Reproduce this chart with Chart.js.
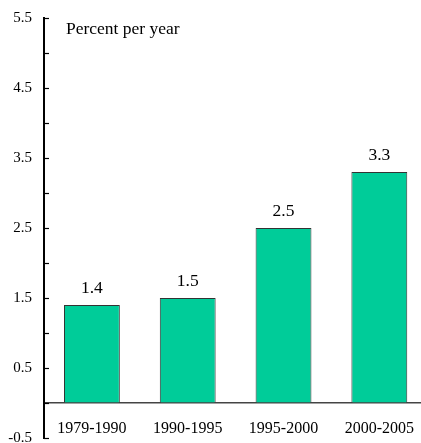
<!DOCTYPE html>
<html>
<head>
<meta charset="utf-8">
<script src="https://cdn.jsdelivr.net/npm/chart.js@4.4.0/dist/chart.umd.min.js"></script>
<style>
    html, body { margin: 0; padding: 0; background: #fff; overflow: hidden; }
    #wrap { width: 421px; height: 443px; overflow: hidden; position: relative; }
    #rateChart { display: block; }
</style>
</head>
<body>
<div id="wrap"><canvas id="rateChart" width="430" height="456"></canvas></div>
<script>
const periods = ['1979-1990', '1990-1995', '1995-2000', '2000-2005'];
const growthRates = [1.4, 1.5, 2.5, 3.3];
const unitLabel = 'Percent per year';
const yMin = -0.5;
const yMax = 5.5;
const yStep = 0.5;

document.addEventListener('DOMContentLoaded', () => {
    const ctx = document.getElementById('rateChart').getContext('2d');
    const serif = '"Liberation Serif", "Times New Roman", serif';

    // petites graduations dessinées vers l'intérieur, à partir de l'échelle y
    const innerTicks = {
        id: 'innerTicks',
        afterDraw(chart) {
            const y = chart.scales.y;
            const c = chart.ctx;
            c.save();
            c.strokeStyle = '#000';
            c.lineWidth = 1.2;
            y.ticks.forEach(t => {
                const py = Math.round(y.getPixelForValue(t.value)) + 0.5;
                c.beginPath();
                c.moveTo(y.right, py);
                c.lineTo(y.right + 5, py);
                c.stroke();
            });
            c.restore();
        }
    };

    // valeurs au-dessus des barres + libellé de l'unité
    const textLabels = {
        id: 'textLabels',
        afterDatasetsDraw(chart) {
            const c = chart.ctx;
            const meta = chart.getDatasetMeta(0);
            c.save();
            c.fillStyle = '#000';
            c.font = '17.5px ' + serif;
            c.textAlign = 'center';
            c.textBaseline = 'alphabetic';
            meta.data.forEach((bar, i) => {
                c.fillText(growthRates[i].toFixed(1), bar.x, bar.y - 12);
            });
            c.textAlign = 'left';
            c.fillText(unitLabel, chart.chartArea.left + 22, chart.chartArea.top + 16);
            c.restore();
        }
    };

    new Chart(ctx, {
        type: 'bar',
        data: {
            labels: periods,
            datasets: [{
                data: growthRates,
                backgroundColor: '#00CC99',
                borderColor: '#333333',
                borderWidth: 1,
                categoryPercentage: 1,
                barPercentage: 0.583
            }]
        },
        options: {
            responsive: false,
            animation: false,
            layout: { padding: { top: 15, bottom: 6, left: 0, right: 0 } },
            plugins: {
                legend: { display: false },
                tooltip: { enabled: false }
            },
            scales: {
                x: {
                    position: { y: 0 },
                    offset: true,
                    grid: { display: true, drawOnChartArea: false, drawTicks: false },
                    border: { display: true, color: '#444', width: 1.5 },
                    ticks: {
                        color: '#000',
                        padding: 16,
                        maxRotation: 0,
                        autoSkip: false,
                        font: { family: serif, size: 16 }
                    }
                },
                y: {
                    min: yMin,
                    max: yMax,
                    afterFit(scale) { scale.width = 44; },
                    grid: { display: true, drawOnChartArea: false, drawTicks: false },
                    border: { display: true, color: '#000', width: 2 },
                    ticks: {
                        stepSize: yStep,
                        autoSkip: false,
                        color: '#000',
                        padding: 12,
                        font: { family: serif, size: 15, lineHeight: 0.8 },
                        callback: (value) => {
                            const v = Math.round(value * 10) / 10;
                            return Number.isInteger(v + 0.5) ? v.toFixed(1) : '';
                        }
                    }
                }
            }
        },
        plugins: [innerTicks, textLabels]
    });
});
</script>
</body>
</html>
